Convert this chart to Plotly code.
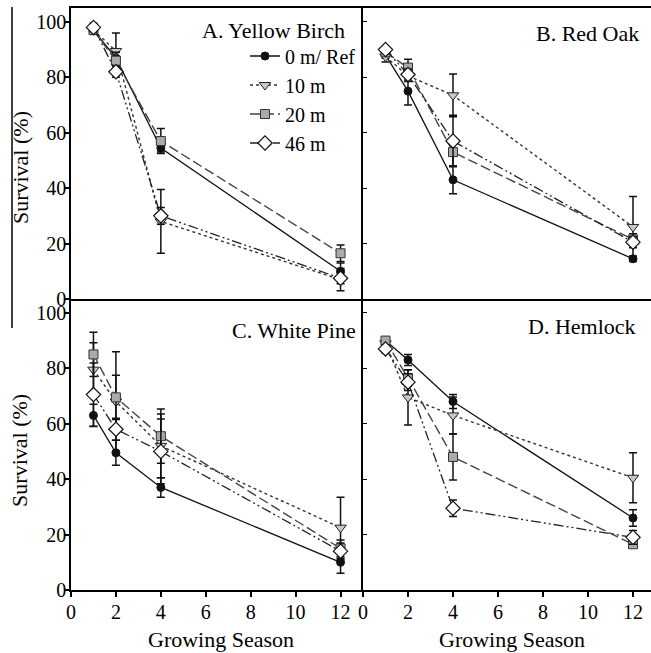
import plotly.graph_objects as go
from plotly.subplots import make_subplots

seasons = [1, 2, 4, 12]
series_names = ["0 m/ Ref", "10 m", "20 m", "46 m"]

# Panel A. Yellow Birch
a_0m = [97, 87, 54.5, 10];   a_0m_err = [1.5, 2, 1.5, 3]
a_10m = [97, 89.5, 28, 7];   a_10m_err = [1.5, 6.5, 11.5, 4]
a_20m = [97, 86, 57, 16.5];  a_20m_err = [1.5, 3, 4.5, 3]
a_46m = [98, 82, 30, 7.5];   a_46m_err = [1.5, 2, 3, 2]

# Panel B. Red Oak
b_0m = [88, 75, 43, 14.5];   b_0m_err = [1, 5, 5, 1]
b_10m = [87.5, 80.5, 73.5, 26]; b_10m_err = [2, 2, 7.7, 11]
b_20m = [89, 83.5, 53, 21.5];   b_20m_err = [1, 3, 5, 2]
b_46m = [90, 81, 57, 20.5];     b_46m_err = [1, 2, 9.3, 2]

# Panel C. White Pine
c_0m = [63, 49.5, 37, 10];    c_0m_err = [4, 4.5, 3.5, 4]
c_10m = [79.5, 68, 52, 22.5]; c_10m_err = [9.7, 18, 11.5, 11]
c_20m = [85, 69.5, 55.5, 15]; c_20m_err = [8, 8, 9.8, 3]
c_46m = [70.5, 58, 50, 14];   c_46m_err = [11.4, 4, 11.7, 3]

# Panel D. Hemlock
d_0m = [90, 83, 68, 26];      d_0m_err = [1, 2, 2.5, 3]
d_10m = [89, 69.5, 63, 40.5]; d_10m_err = [1.5, 10, 6.6, 9]
d_20m = [90, 76.5, 48, 16.5]; d_20m_err = [1, 3, 8.3, 1]
d_46m = [87, 75, 29.5, 19];   d_46m_err = [1.5, 3, 3, 2.5]

panel_titles = ["A. Yellow Birch", "B. Red Oak", "C. White Pine", "D. Hemlock"]
y_ticks = [0, 20, 40, 60, 80, 100]
x_ticks = [0, 2, 4, 6, 8, 10, 12]

panels = [
    (1, 1, [(a_0m, a_0m_err), (a_10m, a_10m_err), (a_20m, a_20m_err), (a_46m, a_46m_err)]),
    (1, 2, [(b_0m, b_0m_err), (b_10m, b_10m_err), (b_20m, b_20m_err), (b_46m, b_46m_err)]),
    (2, 1, [(c_0m, c_0m_err), (c_10m, c_10m_err), (c_20m, c_20m_err), (c_46m, c_46m_err)]),
    (2, 2, [(d_0m, d_0m_err), (d_10m, d_10m_err), (d_20m, d_20m_err), (d_46m, d_46m_err)]),
]

styles = [
    dict(line=dict(color="#111111", width=1.3, dash="solid"),
         marker=dict(symbol="circle", size=8, color="#111111", line=dict(color="#111111", width=1))),
    dict(line=dict(color="#333333", width=1.4, dash="dot"),
         marker=dict(symbol="triangle-down", size=10, color="#c8c8c8", line=dict(color="#222222", width=1))),
    dict(line=dict(color="#444444", width=1.4, dash="10px,4px"),
         marker=dict(symbol="square", size=9, color="#aaaaaa", line=dict(color="#333333", width=1))),
    dict(line=dict(color="#222222", width=1.3, dash="10px,3px,2px,3px,2px,3px"),
         marker=dict(symbol="diamond", size=11, color="white", line=dict(color="#111111", width=1.2))),
]

fig = make_subplots(rows=2, cols=2, column_widths=[292, 288],
                    horizontal_spacing=0, vertical_spacing=0)

for row, col, data in panels:
    for i, (vals, errs) in enumerate(data):
        st = styles[i]
        fig.add_trace(go.Scatter(
            x=seasons, y=vals, mode="lines+markers",
            name=series_names[i], legendgroup=series_names[i],
            showlegend=(row == 1 and col == 1),
            line=st["line"], marker=st["marker"],
            error_y=dict(type="data", array=errs, visible=True,
                         color="#111111", thickness=1.5, width=4),
        ), row=row, col=col)

font_family = "Liberation Serif, Times New Roman, serif"
axis_common = dict(showgrid=False, zeroline=False, showline=True,
                   linecolor="black", linewidth=1.5)

# x axes
fig.update_xaxes(range=[0, 13], row=1, col=1, showticklabels=False, ticks="",
                 mirror=True, **axis_common)
fig.update_xaxes(range=[0, 12.8], row=1, col=2, showticklabels=False, ticks="",
                 mirror=True, **axis_common)
fig.update_xaxes(range=[0, 13], row=2, col=1, tickvals=x_ticks, ticks="outside",
                 ticklen=5, tickwidth=1.5, tickcolor="black", ticklabelstandoff=-2,
                 tickfont=dict(size=20, family=font_family, color="black"), **axis_common)
fig.update_xaxes(range=[0, 12.8], row=2, col=2, tickvals=x_ticks, ticks="outside",
                 ticklen=5, tickwidth=1.5, tickcolor="black", ticklabelstandoff=-2,
                 tickfont=dict(size=20, family=font_family, color="black"), **axis_common)

# y axes
for r in (1, 2):
    fig.update_yaxes(range=[0, 105], row=r, col=1, tickvals=y_ticks, ticks="outside",
                     ticklen=5, tickwidth=1.5, tickcolor="black", ticklabelstandoff=-6,
                     tickfont=dict(size=20, family=font_family, color="black"), **axis_common)
    fig.update_yaxes(range=[0, 105], row=r, col=2, tickvals=y_ticks[1:], ticks="inside",
                     ticklen=4, tickwidth=1.2, tickcolor="black", showticklabels=False,
                     **axis_common)

ann_font = dict(size=22, family=font_family, color="black")
annotations = [
    dict(text=panel_titles[0], x=0.476, y=0.9605),
    dict(text=panel_titles[1], x=0.983, y=0.957),
    dict(text=panel_titles[2], x=0.495, y=0.4467),
    dict(text=panel_titles[3], x=0.9776, y=0.4536),
]
for a in annotations:
    fig.add_annotation(xref="paper", yref="paper", xanchor="right", yanchor="middle",
                       showarrow=False, font=ann_font, **a)

for yc in (0.725, 0.239):
    fig.add_annotation(text="Survival (%)", xref="paper", yref="paper", x=-0.0879, y=yc,
                       xanchor="center", yanchor="middle", textangle=-90,
                       showarrow=False, font=ann_font)
for xc in (0.2586, 0.76):
    fig.add_annotation(text="Growing Season", xref="paper", yref="paper", x=xc, y=-0.0859,
                       xanchor="center", yanchor="middle", showarrow=False, font=ann_font)

# stray vertical rule at the left edge of the original figure
fig.add_shape(type="line", xref="paper", yref="paper", x0=-0.1017, x1=-0.1017,
              y0=1.0017, y1=0.450, line=dict(color="black", width=1.5))

fig.update_layout(
    width=651, height=653,
    margin=dict(l=71, r=0, t=8, b=63),
    paper_bgcolor="white", plot_bgcolor="white",
    font=dict(family=font_family, color="black"),
    showlegend=True,
    legend=dict(x=0.30, y=0.951, xanchor="left", yanchor="top",
                bgcolor="rgba(0,0,0,0)", borderwidth=0,
                font=dict(size=20, family=font_family, color="black"),
                traceorder="grouped", tracegroupgap=0),
)

fig.write_html(
    "out.html",
    config={"displayModeBar": False},
    post_script="document.body.style.margin='0';document.body.style.padding='0';"
                "document.body.style.overflow='hidden';"
                "document.documentElement.style.overflow='hidden';",
)
